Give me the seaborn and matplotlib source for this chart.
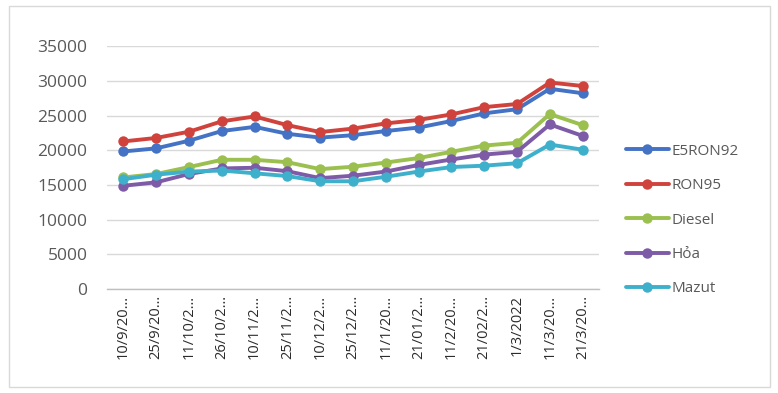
import matplotlib
matplotlib.use('Agg')
import matplotlib.pyplot as plt
import seaborn as sns
import pandas as pd
from matplotlib.patches import Rectangle

# dates on the x axis (Excel truncates the long ones)
dates = ['10/9/2021', '25/9/2021', '11/10/2021', '26/10/2021', '10/11/2021',
         '25/11/2021', '10/12/2021', '25/12/2021', '11/1/2022', '21/01/2022',
         '11/2/2022', '21/02/2022', '1/3/2022', '11/3/2022', '21/3/2022']

e5ron92 = [19850, 20300, 21400, 22800, 23400, 22400, 21850, 22200, 22800, 23300,
           24250, 25350, 25950, 28900, 28250]
ron95 = [21300, 21800, 22700, 24200, 24900, 23650, 22650, 23150, 23900, 24400,
         25200, 26250, 26700, 29800, 29300]
diesel = [16100, 16600, 17600, 18650, 18650, 18300, 17300, 17650, 18250, 18900,
          19800, 20700, 21100, 25250, 23650]
hoa = [14900, 15400, 16600, 17400, 17500, 17000, 16000, 16350, 16950, 17900,
       18700, 19400, 19800, 23750, 22100]
mazut = [15850, 16500, 16950, 17100, 16700, 16300, 15550, 15550, 16200, 16950,
         17600, 17800, 18150, 20850, 20100]

series = {'E5RON92': e5ron92, 'RON95': ron95, 'Diesel': diesel,
          'Hỏa': hoa, 'Mazut': mazut}
colors = ['#4472C4', '#D0433D', '#9BC04F', '#7D5BA6', '#3FB0CC']


def shorten(label):
    return label if len(label) <= 8 else label[:7] + '…'


def build_frame():
    rows = []
    for name, values in series.items():
        for d, v in zip(dates, values):
            rows.append({'date': shorten(d), 'price': v, 'fuel': name})
    return pd.DataFrame(rows)


def main():
    sns.set_style('white')
    plt.rcParams['font.family'] = ['Open Sans', 'DejaVu Sans']

    df = build_frame()

    fig = plt.figure(figsize=(7.78, 3.93), dpi=100)
    ax = fig.add_axes([0.1375, 0.2646, 0.6325, 0.6171])

    sns.lineplot(data=df, x='date', y='price', hue='fuel', palette=colors,
                 sort=False, marker='o', markersize=7.5, markeredgewidth=0,
                 linewidth=2.8, ax=ax)

    ax.set_ylim(0, 35000)
    ax.set_yticks(range(0, 35001, 5000))
    ax.set_xlim(-0.5, len(dates) - 0.5)
    ax.yaxis.grid(True, color='#D9D9D9', linewidth=1)
    ax.set_axisbelow(True)
    for side in ['top', 'right', 'left']:
        ax.spines[side].set_visible(False)
    ax.spines['bottom'].set_color('#BFBFBF')
    ax.spines['bottom'].set_linewidth(1)
    ax.set_xlabel('')
    ax.set_ylabel('')
    ax.tick_params(axis='y', labelsize=12.5, labelcolor='#595959', length=0, pad=14)
    ax.tick_params(axis='x', labelsize=10.5, labelcolor='#2b2b2b', length=0, pad=4,
                   labelrotation=90)

    handles, labels = ax.get_legend_handles_labels()
    ax.legend(handles, labels, loc='center left', bbox_to_anchor=(0.787, 0.44),
              bbox_transform=fig.transFigure, frameon=False, fontsize=11,
              labelspacing=1.27, handlelength=2.8, handletextpad=0.2,
              labelcolor='#595959')

    # outer chart border
    fig.patches.append(Rectangle((9 / 778, 6 / 393), 761 / 778, 381 / 393,
                                 transform=fig.transFigure, fill=False,
                                 edgecolor='#D9D9D9', linewidth=1))

    fig.savefig('out.png', dpi=100)
    plt.close(fig)


if __name__ == '__main__':
    main()
